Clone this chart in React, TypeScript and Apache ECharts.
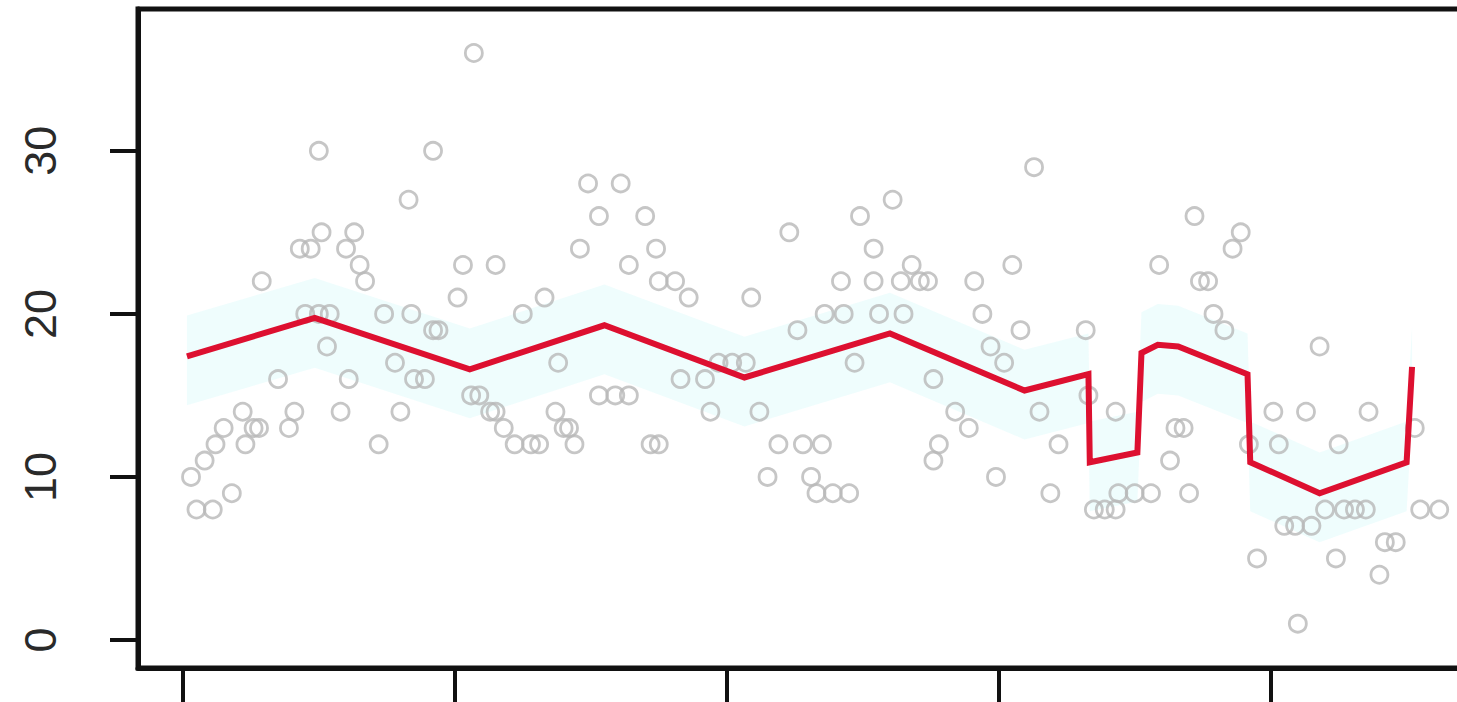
import React, { useEffect, useRef } from "react";
import * as echarts from "echarts";

// x positions (arbitrary index units, ticks every 10), y values
const pointX = [0.3, 0.5, 1.1, 0.8, 1.2, 1.5, 1.8, 2.2, 2.3, 2.6, 2.8, 2.9, 3.5, 3.9, 4.1, 4.3, 4.7, 5.0, 5.1, 4.5, 5.4, 5.0, 5.3, 5.8, 6.1, 6.0, 6.3, 6.5, 6.7, 7.2, 7.4, 8.0, 7.8, 9.2, 8.3, 8.4, 9.2, 8.5, 8.9, 9.4, 10.1, 10.3, 10.7, 10.6, 10.9, 11.3, 11.5, 11.5, 11.8, 12.2, 12.5, 12.8, 13.1, 13.3, 13.7, 14.0, 14.2, 13.8, 14.4, 14.6, 14.9, 15.3, 15.3, 16.1, 15.9, 16.4, 16.4, 17.0, 17.2, 17.5, 17.4, 17.5, 18.1, 18.3, 18.6, 19.2, 19.4, 19.7, 20.2, 20.7, 20.9, 21.2, 21.5, 21.9, 22.3, 22.6, 22.8, 23.1, 23.3, 23.9, 24.5, 23.5, 23.6, 24.2, 24.3, 24.7, 24.9, 25.4, 25.4, 26.1, 25.6, 26.4, 26.5, 26.8, 27.1, 27.4, 27.6, 27.8, 27.6, 28.4, 28.9, 29.1, 29.4, 29.7, 29.9, 30.2, 30.5, 30.8, 31.3, 31.5, 31.9, 32.2, 33.2, 33.3, 33.5, 33.9, 34.3, 34.3, 34.4, 35.0, 35.6, 35.9, 36.3, 36.5, 36.8, 37.0, 37.2, 37.4, 37.7, 37.9, 38.3, 38.6, 38.9, 39.2, 39.5, 40.1, 40.3, 40.5, 40.9, 41.0, 41.3, 41.8, 41.5, 42.0, 42.4, 42.5, 42.7, 43.1, 43.5, 43.6, 44.0, 44.2, 44.6, 45.3, 45.5, 46.2];
const pointY = [10, 8, 8, 11, 12, 13, 9, 14, 12, 13, 13, 22, 16, 13, 14, 24, 24, 30, 25, 20, 20, 20, 18, 14, 16, 24, 25, 23, 22, 12, 20, 14, 17, 30, 27, 20, 19, 16, 16, 19, 21, 23, 36, 15, 15, 14, 14, 23, 13, 12, 20, 12, 12, 21, 14, 13, 13, 17, 12, 24, 28, 26, 15, 28, 15, 15, 23, 26, 12, 12, 24, 22, 22, 16, 21, 16, 14, 17, 17, 17, 21, 14, 10, 12, 25, 19, 12, 10, 9, 9, 9, 12, 20, 22, 20, 17, 26, 24, 22, 27, 20, 22, 20, 23, 22, 22, 16, 12, 11, 14, 13, 22, 20, 18, 10, 17, 23, 19, 29, 14, 9, 12, 19, 15, 8, 8, 8, 14, 9, 9, 9, 23, 11, 13, 13, 9, 26, 22, 22, 20, 19, 24, 25, 12, 5, 14, 12, 7, 7, 1, 14, 18, 7, 8, 5, 12, 8, 8, 8, 14, 4, 6, 6, 13, 8, 8];

// fitted (segmented) curve
const fitX = [0.15, 4.85, 10.55, 15.5, 20.65, 26.0, 30.95, 33.3, 33.35, 35.1, 35.25, 35.85, 36.6, 39.15, 39.25, 41.8, 45.0, 45.2];
const fitY = [17.4, 19.75, 16.6, 19.3, 16.1, 18.8, 15.3, 16.3, 10.9, 11.5, 17.6, 18.1, 18.0, 16.3, 10.9, 9.0, 10.9, 16.75];
const bandLow = [14.4, 16.7, 13.6, 16.3, 13.1, 15.8, 12.3, 13.3, 7.9, 8.5, 14.6, 15.1, 15.0, 13.3, 7.9, 6.0, 7.9, 13.7];
const bandHigh = [19.9, 22.2, 19.1, 21.8, 18.6, 21.3, 17.8, 18.8, 13.4, 14.0, 20.1, 20.6, 20.5, 18.8, 13.4, 11.5, 13.4, 19.2];

const xTicks = [0, 10, 20, 30, 40];
const yTicks = [0, 10, 20, 30];

export default function App() {
  const ref = useRef<HTMLDivElement>(null);
  useEffect(() => {
    document.body.style.margin = "0";
    document.body.style.overflow = "hidden";
    document.documentElement.style.overflow = "hidden";
    const chart = echarts.init(ref.current!, undefined, { renderer: "svg" });
    const scatterData = pointX.map((x, i) => [x, pointY[i]]);
    const fitData = fitX.map((x, i) => [x, fitY[i]]);
    chart.setOption({
      animation: false,
      backgroundColor: "#fff",
      grid: {
        left: 138,
        top: 9,
        right: 39,
        bottom: 34,
        show: true,
        borderColor: "#111",
        borderWidth: 5,
        containLabel: false,
        outerBoundsMode: "none",
      },
      xAxis: {
        type: "value",
        min: -1.65,
        max: 47,
        z: 10,
        axisLine: { show: true, onZero: false, lineStyle: { color: "#111", width: 5 } },
        axisTick: {
          show: true,
          customValues: xTicks,
          length: 34,
          lineStyle: { color: "#111", width: 4 },
        },
        axisLabel: { show: false },
        splitLine: { show: false },
      },
      yAxis: {
        type: "value",
        min: -1.72,
        max: 38.7,
        z: 10,
        axisLine: { show: true, onZero: false, lineStyle: { color: "#111", width: 5 } },
        axisTick: {
          show: true,
          customValues: yTicks,
          length: 28,
          lineStyle: { color: "#111", width: 4 },
        },
        axisLabel: {
          show: true,
          customValues: yTicks,
          rotate: 90,
          margin: 75,
          fontSize: 45,
          color: "#2a2a2a",
          fontFamily: "Liberation Sans, Arial, sans-serif",
        },
        splitLine: { show: false },
      },
      series: [
        {
          type: "custom",
          data: [0],
          z: 1,
          silent: true,
          renderItem: (params: any, api: any) => {
            const pts: number[][] = [];
            for (let i = 0; i < fitX.length; i++) pts.push(api.coord([fitX[i], bandHigh[i]]));
            for (let i = fitX.length - 1; i >= 0; i--) pts.push(api.coord([fitX[i], bandLow[i]]));
            return {
              type: "polygon",
              shape: { points: pts },
              style: { fill: "rgba(215,250,250,0.4)", stroke: "none" },
            };
          },
        },
        {
          type: "scatter",
          data: scatterData,
          symbol: "circle",
          symbolSize: 17,
          z: 2,
          itemStyle: { color: "rgba(255,255,255,0)", borderColor: "#b8b8b8", borderWidth: 2.8 },
        },
        {
          type: "line",
          data: fitData,
          z: 3,
          showSymbol: false,
          lineStyle: { color: "#dd1030", width: 6, join: "miter" },
        },
      ],
    });
    return () => chart.dispose();
  }, []);
  return <div ref={ref} style={{ width: 1500, height: 702 }} />;
}
